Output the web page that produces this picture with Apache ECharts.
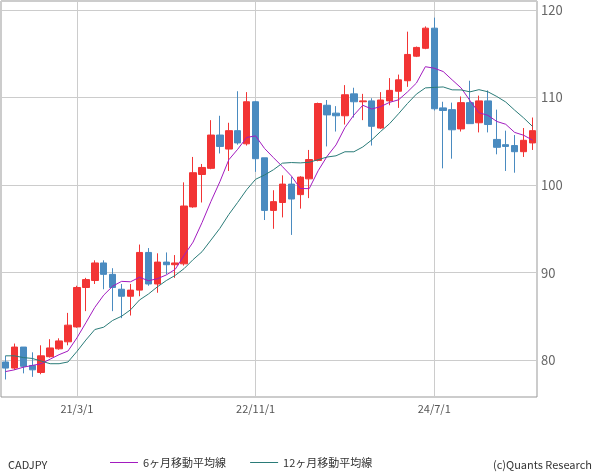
<!DOCTYPE html>
<html>
<head>
<meta charset="UTF-8">
<title>CADJPY</title>
<script src="https://cdn.jsdelivr.net/npm/echarts@6/dist/echarts.min.js"></script>
<style>html,body{margin:0;padding:0;background:#fff}</style>
</head>
<body>
<div id="main" style="width:600px;height:475px;"></div>
<script type="text/javascript">
// 月足 2020/7 - 2025/6
var months = [];
for (var y = 2020; y <= 2025; y++) {
    for (var m = 1; m <= 12; m++) {
        if ((y === 2020 && m < 7) || (y === 2025 && m > 6)) continue;
        months.push(String(y).slice(2) + '/' + m + '/1');
    }
}
var opens = [79.8, 79.1, 81.5, 79.4, 78.6, 80.4, 81.3, 82.1, 83.8, 88.3, 89.1, 91.1,
    89.8, 88.1, 87.3, 88.0, 92.3, 88.7, 91.2, 90.9, 91.0, 97.5, 101.2, 101.9,
    105.7, 104.1, 106.2, 104.7, 109.5, 103.1, 97.1, 98.0, 100.1, 98.9, 100.7, 102.8,
    109.1, 108.2, 107.9, 110.4, 109.5, 109.6, 106.5, 109.6, 110.7, 111.9, 114.7, 115.6,
    117.9, 108.8, 108.6, 106.4, 109.4, 107.1, 109.6, 105.2, 104.6, 104.5, 103.8, 104.8];
var closes = [79.1, 81.5, 79.3, 78.9, 80.5, 81.4, 82.2, 84.0, 88.3, 89.2, 91.1, 89.8,
    88.3, 87.3, 88.0, 92.3, 88.7, 91.2, 90.9, 91.1, 97.6, 101.4, 102.0, 105.7,
    104.4, 106.2, 104.8, 109.5, 103.0, 97.1, 98.1, 100.1, 98.4, 100.9, 102.9, 109.3,
    108.0, 107.9, 110.3, 109.5, 109.6, 106.7, 109.7, 110.8, 112.0, 114.9, 115.7, 117.9,
    108.7, 108.5, 106.3, 109.4, 107.0, 109.6, 106.9, 104.3, 104.4, 103.8, 105.1, 106.2];
var highs = [80.5, 81.9, 81.5, 80.9, 81.7, 82.4, 82.5, 85.4, 88.5, 89.4, 91.4, 91.4,
    90.5, 88.7, 88.7, 93.2, 92.8, 92.2, 92.3, 92.0, 100.3, 103.2, 102.4, 107.4,
    107.9, 107.1, 110.7, 110.6, 109.6, 103.1, 99.4, 101.1, 100.9, 101.0, 104.0, 109.4,
    109.7, 109.0, 111.4, 111.1, 110.4, 109.9, 110.6, 112.2, 112.6, 117.5, 115.8, 118.1,
    119.1, 109.5, 109.4, 110.1, 111.9, 110.2, 110.8, 108.6, 106.2, 105.7, 106.5, 107.7];
var lows = [77.8, 78.9, 78.5, 78.1, 78.4, 80.3, 81.2, 81.7, 83.7, 85.6, 88.7, 88.1,
    85.6, 84.8, 85.1, 87.3, 88.5, 87.7, 89.8, 89.4, 90.8, 97.4, 98.0, 101.8,
    103.6, 101.6, 104.6, 104.5, 101.5, 96.0, 95.0, 96.3, 94.3, 97.3, 98.5, 102.7,
    104.4, 106.1, 106.9, 107.7, 107.4, 104.5, 106.4, 109.1, 108.8, 111.2, 114.6, 115.5,
    108.5, 101.9, 103.0, 106.1, 107.0, 106.0, 106.0, 103.5, 101.6, 101.4, 103.2, 104.0];
// 期間前のデータを含む移動平均の先頭部分
var ma6Head = [78.7, 78.9, 79.2, 79.4, 79.6];
var ma12Head = [80.5, 80.5, 80.3, 80.2, 79.9, 79.6, 79.6, 79.8, 81.0, 82.3, 83.5];
var xLabels = ['21/3/1', '22/11/1', '24/7/1'];

function movingAvg(n, head) {
    var out = head.slice();
    for (var i = head.length; i < closes.length; i++) {
        var s = 0;
        for (var j = i - n + 1; j <= i; j++) s += closes[j];
        out.push(+(s / n).toFixed(2));
    }
    return out;
}

var kdata = closes.map(function (c, i) {
    return [opens[i], c, lows[i], highs[i]];
});
var showLabel = function (idx, val) { return xLabels.indexOf(val) >= 0; };
var font = '"Noto Sans CJK JP", sans-serif';

echarts.init(document.getElementById('main')).setOption({
    animation: false,
    grid: {left: 1, right: 63, top: 1, bottom: 78, show: true, borderColor: '#999', borderWidth: 1},
    xAxis: {
        type: 'category',
        data: months,
        axisLine: {show: false},
        axisTick: {show: false},
        axisLabel: {interval: showLabel, color: '#555', fontSize: 11, fontFamily: font, margin: 6},
        splitLine: {show: false}
    },
    yAxis: {
        type: 'value',
        position: 'right',
        min: 75.8,
        max: 121,
        splitNumber: 5,
        axisLine: {show: false},
        axisTick: {show: false},
        axisLabel: {showMinLabel: false, showMaxLabel: false, color: '#666', fontSize: 13, fontFamily: font, margin: 4},
        splitLine: {lineStyle: {color: '#ccc'}}
    },
    legend: {
        bottom: 2,
        left: 105,
        itemGap: 24,
        itemWidth: 28,
        itemHeight: 1,
        icon: 'rect',
        textStyle: {fontSize: 11, fontFamily: font, color: '#333'},
        data: ['6ヶ月移動平均線', '12ヶ月移動平均線']
    },
    graphic: [
        {type: 'text', left: 8, bottom: 5, style: {text: 'CADJPY', fontSize: 11, fontFamily: font, fill: '#333'}},
        {type: 'text', right: 8, bottom: 5, style: {text: '(c)Quants Research', fontSize: 11, fontFamily: font, fill: '#333'}}
    ],
    series: [
        {
            name: 'CADJPY',
            type: 'candlestick',
            data: kdata,
            barWidth: 7,
            z: 3,
            itemStyle: {
                color: '#f23434', borderColor: '#f23434',
                color0: '#4a8bc0', borderColor0: '#4a8bc0', borderWidth: 1
            },
            markLine: {
                silent: true,
                symbol: 'none',
                label: {show: false},
                z: 1,
                lineStyle: {color: '#ccc', type: 'solid', width: 1},
                data: xLabels.map(function (v) { return {xAxis: v}; })
            }
        },
        {
            name: '6ヶ月移動平均線', type: 'line', data: movingAvg(6, ma6Head), z: 4,
            symbol: 'none', lineStyle: {width: 1, color: '#a21bbf'}, itemStyle: {color: '#a21bbf'}
        },
        {
            name: '12ヶ月移動平均線', type: 'line', data: movingAvg(12, ma12Head), z: 4,
            symbol: 'none', lineStyle: {width: 1, color: '#2a7b78'}, itemStyle: {color: '#2a7b78'}
        }
    ]
});
</script>
</body>
</html>
